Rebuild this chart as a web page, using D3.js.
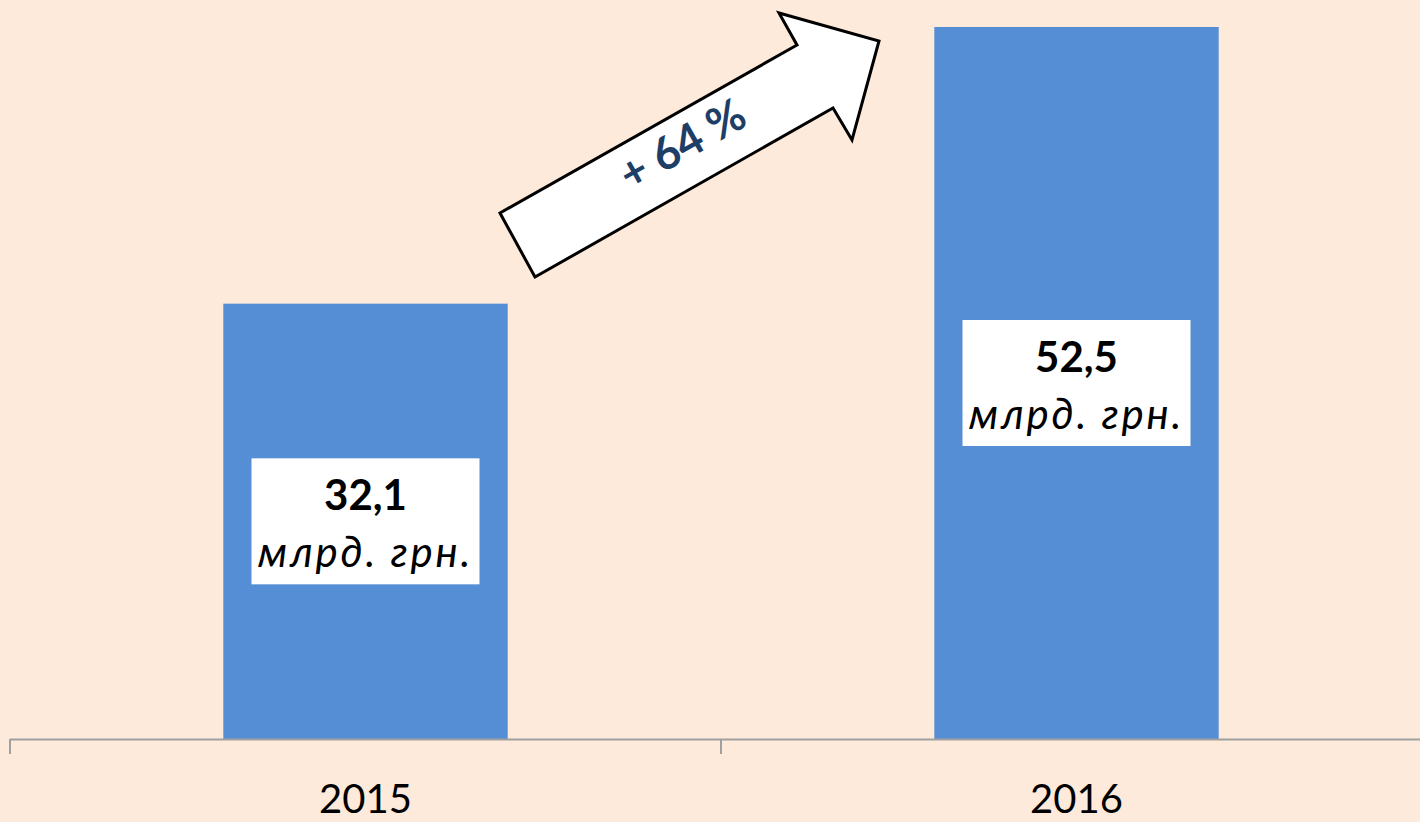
<!DOCTYPE html>
<html><head><meta charset="utf-8">
<script src="https://cdn.jsdelivr.net/npm/d3@7"></script>
<style>html,body{margin:0;padding:0;background:#FDEADA;}svg{display:block;}</style>
</head><body>
<script>
const categories = ["2015", "2016"];
const values = [32.1, 52.5];
const valueLabels = ["32,1", "52,5"];
const unitLabel = "млрд. грн.";
const growthLabel = "+ 64 %";

const W = 1420, H = 822;
const svg = d3.select("body").append("svg").attr("width", W).attr("height", H);
svg.append("rect").attr("width", W).attr("height", H).attr("fill", "#FDEADA");

const base = 739;
const x = d3.scaleBand().domain(categories).range([10, 1432]).paddingInner(0.6).paddingOuter(0.3);
const y = d3.scaleLinear().domain([0, 52.5]).range([base, 27]);

// bars
svg.selectAll("rect.bar").data(values).join("rect")
  .attr("class", "bar")
  .attr("x", (d, i) => x(categories[i]))
  .attr("width", x.bandwidth())
  .attr("y", d => y(d))
  .attr("height", d => y(0) - y(d))
  .attr("fill", "#558ED5");

// axis
const axisColor = "#A0A0A0";
svg.append("line").attr("x1", 10).attr("x2", W).attr("y1", base + 0.5).attr("y2", base + 0.5)
  .attr("stroke", axisColor).attr("stroke-width", 2);
const step = x.step();
const bounds = d3.range(categories.length + 1).map(i => 10 + i * step);
svg.selectAll("line.tick").data(bounds).join("line").attr("class", "tick")
  .attr("x1", d => d).attr("x2", d => d).attr("y1", base).attr("y2", base + 15)
  .attr("stroke", axisColor).attr("stroke-width", 2);
svg.selectAll("text.cat").data(categories).join("text").attr("class", "cat")
  .attr("x", d => x(d) + x.bandwidth() / 2).attr("y", 813)
  .attr("text-anchor", "middle").attr("font-family", "Lato, 'Noto Sans', sans-serif")
  .attr("font-size", 40).attr("fill", "#000").text(d => d);

// value label boxes
const boxW = 228, boxH = 126;
const g = svg.selectAll("g.lbl").data(values).join("g").attr("class", "lbl")
  .attr("transform", (d, i) => `translate(${x(categories[i]) + x.bandwidth() / 2},${(y(d) + y(0)) / 2})`);
g.append("rect").attr("x", -boxW / 2).attr("y", -boxH / 2).attr("width", boxW).attr("height", boxH).attr("fill", "#fff");
g.append("text").attr("y", -11).attr("text-anchor", "middle")
  .attr("font-family", "Lato, 'Noto Sans', sans-serif").attr("font-weight", "bold")
  .attr("font-size", 42).attr("fill", "#000").text((d, i) => valueLabels[i]);
g.append("text").attr("y", 46).attr("text-anchor", "middle")
  .attr("font-family", "Lato, 'Noto Sans', sans-serif").attr("font-style", "italic")
  .attr("font-size", 42).attr("letter-spacing", 2.8).attr("fill", "#000").text(unitLabel);

// growth arrow
const arrowPts = [[500, 213], [797, 45], [779, 13], [879, 41], [852, 140], [833, 108], [535, 277]];
svg.append("path").attr("d", d3.line()(arrowPts) + "Z")
  .attr("fill", "#fff").attr("stroke", "#000").attr("stroke-width", 3).attr("stroke-linejoin", "miter");
svg.append("text").attr("transform", "translate(690,158) rotate(-29.5)")
  .attr("text-anchor", "middle").attr("font-family", "Lato, 'Noto Sans', sans-serif")
  .attr("font-weight", "bold").attr("font-size", 45).attr("fill", "#1F3E66").text(growthLabel);
</script>
</body></html>
